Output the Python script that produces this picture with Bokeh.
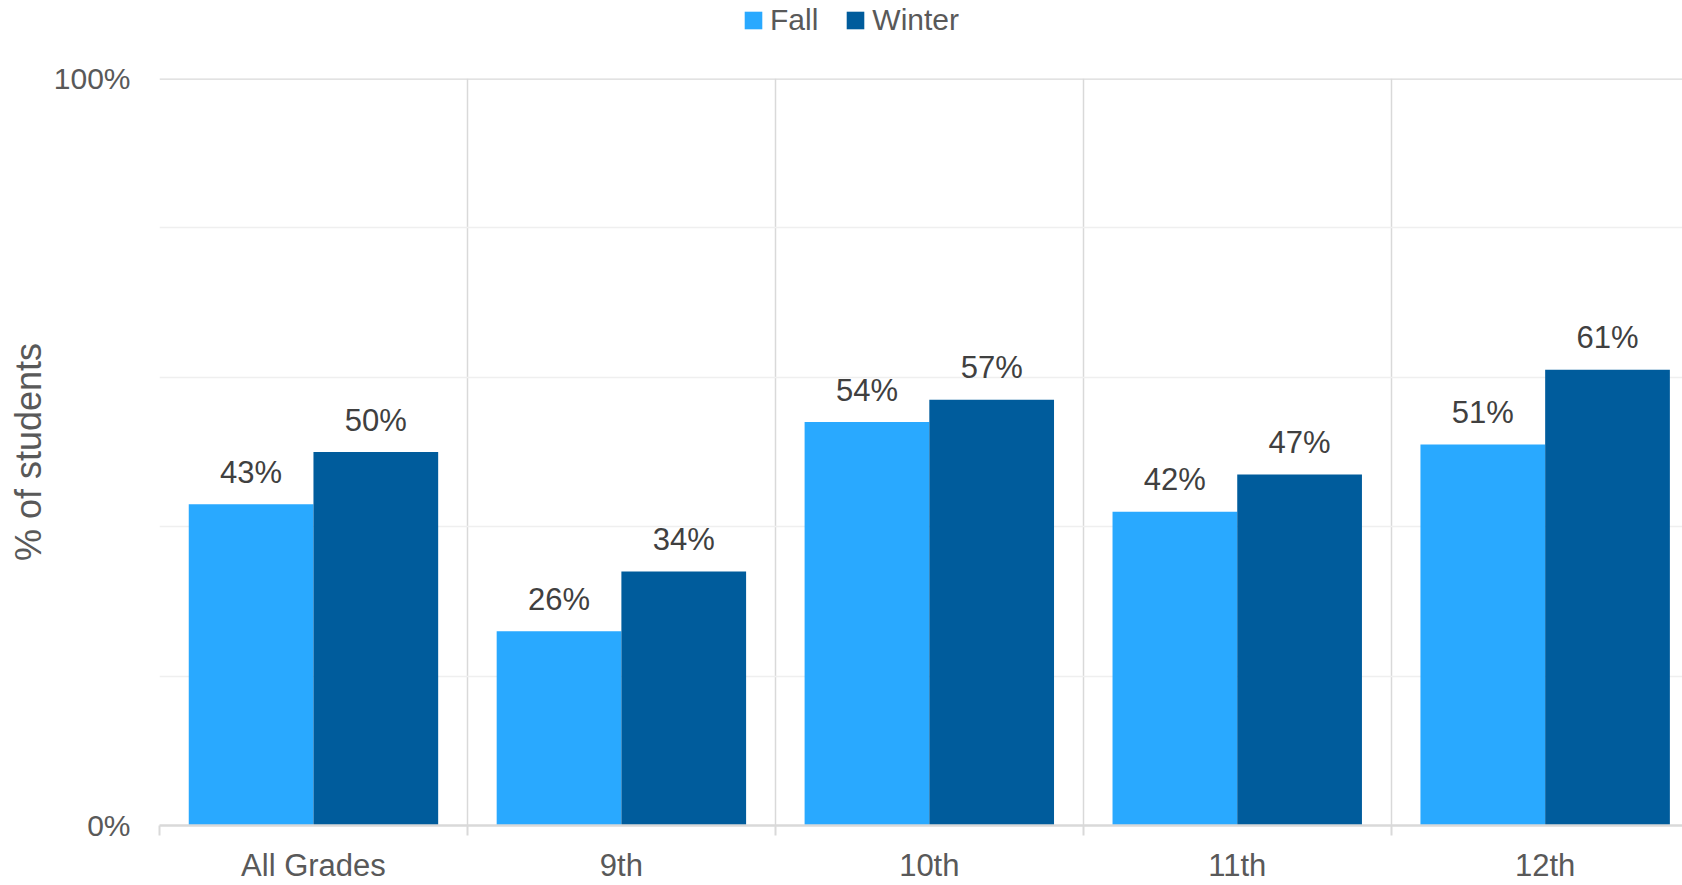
from bokeh.plotting import figure
from bokeh.layouts import column
from bokeh.models import (ColumnDataSource, Range1d, FixedTicker, Span, Legend, LegendItem)
from bokeh.embed import file_html
from bokeh.resources import INLINE
from bokeh.core.properties import value

categories = ["All Grades", "9th", "10th", "11th", "12th"]
fall = [43, 26, 54, 42, 51]
winter = [50, 34, 57, 47, 61]
series_names = ["Fall", "Winter"]
colors = ["#29A9FF", "#005C9C"]

FONT = "Liberation Sans"
idx = list(range(len(categories)))
off = 0.2025
bw = 0.405

src_f = ColumnDataSource(dict(x=[i - off for i in idx], top=fall,
                              lab=[f"{v}%" for v in fall]))
src_w = ColumnDataSource(dict(x=[i + off for i in idx], top=winter,
                              lab=[f"{v}%" for v in winter]))

# ---- legend strip (top) ----
lg = figure(width=1682, height=60, output_backend="svg", toolbar_location=None,
            x_range=Range1d(-0.5, 4.446), y_range=Range1d(500, 501),
            x_axis_location=None, y_axis_location=None,
            min_border_left=0, min_border_right=0, min_border_top=0, min_border_bottom=0)
lg.outline_line_color = None
lg.xgrid.visible = False
lg.ygrid.visible = False
lf = lg.vbar(x="x", top="top", width=bw, source=src_f, fill_color=colors[0], line_color=None)
lw = lg.vbar(x="x", top="top", width=bw, source=src_w, fill_color=colors[1], line_color=None)
legend = Legend(items=[LegendItem(label=series_names[0], renderers=[lf]),
                       LegendItem(label=series_names[1], renderers=[lw])],
                orientation="horizontal", location=(583, 23),
                label_text_font=FONT, label_text_font_size="30px",
                label_text_color="#595959", glyph_width=22, glyph_height=22,
                label_standoff=6, spacing=26, padding=0, margin=0,
                border_line_color=None, background_fill_alpha=0)
lg.add_layout(legend)

# ---- main chart ----
p = figure(width=1682, height=825, output_backend="svg", toolbar_location=None,
           x_range=Range1d(-0.5, 4.446), y_range=Range1d(0, 100),
           min_border_left=159, min_border_right=0, min_border_top=18, min_border_bottom=54)
p.outline_line_color = None
p.background_fill_color = "white"
p.border_fill_color = "white"

rf = p.vbar(x="x", top="top", width=bw, source=src_f, fill_color=colors[0], line_color=None)
rw = p.vbar(x="x", top="top", width=bw, source=src_w, fill_color=colors[1], line_color=None)

for s in (src_f, src_w):
    p.text(x="x", y="top", text="lab", source=s, text_align="center",
           text_baseline="alphabetic", y_offset=-32, text_font=value(FONT),
           text_font_size="31px", text_color="#404040")

# x axis
p.xaxis.ticker = FixedTicker(ticks=idx, minor_ticks=[i - 0.5 for i in idx])
p.xaxis.major_label_overrides = {i: c for i, c in enumerate(categories)}
p.xaxis.major_tick_line_color = None
p.xaxis.major_tick_out = 0
p.xaxis.major_tick_in = 0
p.xaxis.minor_tick_line_color = "#d9d9d9"
p.xaxis.minor_tick_line_width = 2
p.xaxis.minor_tick_out = 10
p.xaxis.minor_tick_in = 0
p.xaxis.axis_line_color = "#d9d9d9"
p.xaxis.axis_line_width = 2.5
p.xaxis.major_label_text_font = FONT
p.xaxis.major_label_text_font_size = "31px"
p.xaxis.major_label_text_color = "#595959"
p.xaxis.major_label_standoff = 12

# y axis
p.yaxis.ticker = FixedTicker(ticks=[0, 100])
p.yaxis.major_label_overrides = {0: "0%", 100: "100%"}
p.yaxis.axis_line_color = None
p.yaxis.major_tick_line_color = None
p.yaxis.minor_tick_line_color = None
p.yaxis.major_tick_out = 0
p.yaxis.major_tick_in = 0
p.yaxis.major_label_standoff = 29
p.yaxis.major_label_text_font = FONT
p.yaxis.major_label_text_font_size = "30px"
p.yaxis.major_label_text_color = "#595959"
p.yaxis.axis_label = "% of students"
p.yaxis.axis_label_text_font = FONT
p.yaxis.axis_label_text_font_size = "36px"
p.yaxis.axis_label_text_font_style = "normal"
p.yaxis.axis_label_text_color = "#595959"
p.yaxis.axis_label_standoff = 2

# grids
p.xgrid.ticker = FixedTicker(ticks=[-0.5, 0.5, 1.5, 2.5, 3.5, 4.5])
p.xgrid.grid_line_color = "#d9d9d9"
p.xgrid.grid_line_width = 1.5
p.ygrid.ticker = FixedTicker(ticks=[20, 40, 60, 80])
p.ygrid.grid_line_color = "#efefef"
p.ygrid.grid_line_width = 1.5

p.add_layout(Span(location=100, dimension="width", line_color="#d9d9d9", line_width=2.5))

layout = column(lg, p, spacing=0)
open("out.html", "w").write(file_html(layout, INLINE))
